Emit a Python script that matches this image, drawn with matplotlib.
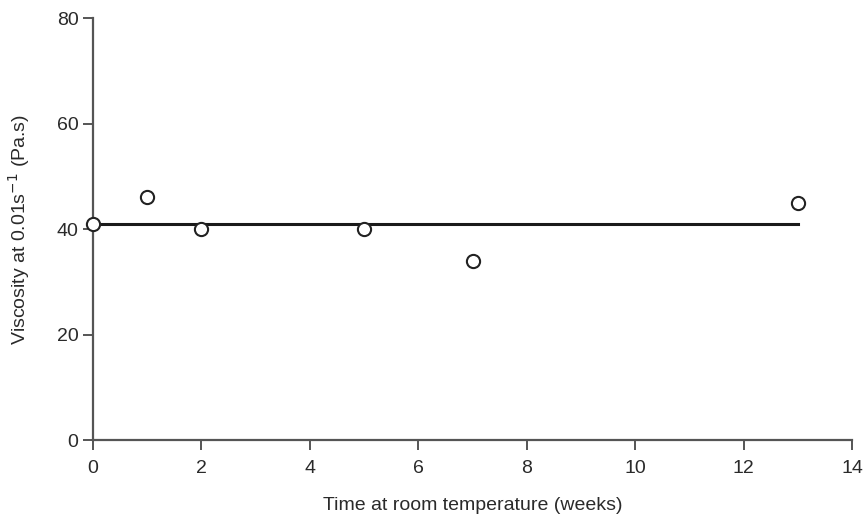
import matplotlib.pyplot as plt

plt.rcParams['font.family'] = ['Liberation Sans', 'DejaVu Sans']

weeks = [0, 1, 2, 5, 7, 13]
viscosity = [41, 46, 40, 40, 34, 45]
fit_x = [0, 13]
fit_y = [41, 41]

fig = plt.figure(figsize=(8.65, 5.16), dpi=100)
ax = fig.add_axes([0.1075, 0.147, 0.8775, 0.818])

ax.plot(fit_x, fit_y, color='#1a1a1a', lw=2.2, zorder=2)
ax.plot(weeks, viscosity, 'o', mfc='white', mec='#222222', mew=1.5, ms=9.5, zorder=3, clip_on=False)

ax.set_xlim(0, 14)
ax.set_ylim(0, 80)
ax.set_xticks(range(0, 15, 2))
ax.set_yticks(range(0, 81, 20))

for s in ['top', 'right']:
    ax.spines[s].set_visible(False)
for s in ['left', 'bottom']:
    ax.spines[s].set_color('#555555')
    ax.spines[s].set_linewidth(1.6)
ax.tick_params(direction='out', length=7.5, width=1.4, color='#555555',
               labelsize=14, labelcolor='#2a2a2a')
ax.tick_params(axis='x', pad=7)
ax.tick_params(axis='y', pad=3)

ax.set_xlabel('Time at room temperature (weeks)', fontsize=14, color='#2a2a2a', labelpad=14)
ax.set_ylabel('Viscosity at 0.01s$^{-1}$ (Pa.s)', fontsize=14, color='#2a2a2a', labelpad=18)

fig.savefig('out.png', dpi=100)
